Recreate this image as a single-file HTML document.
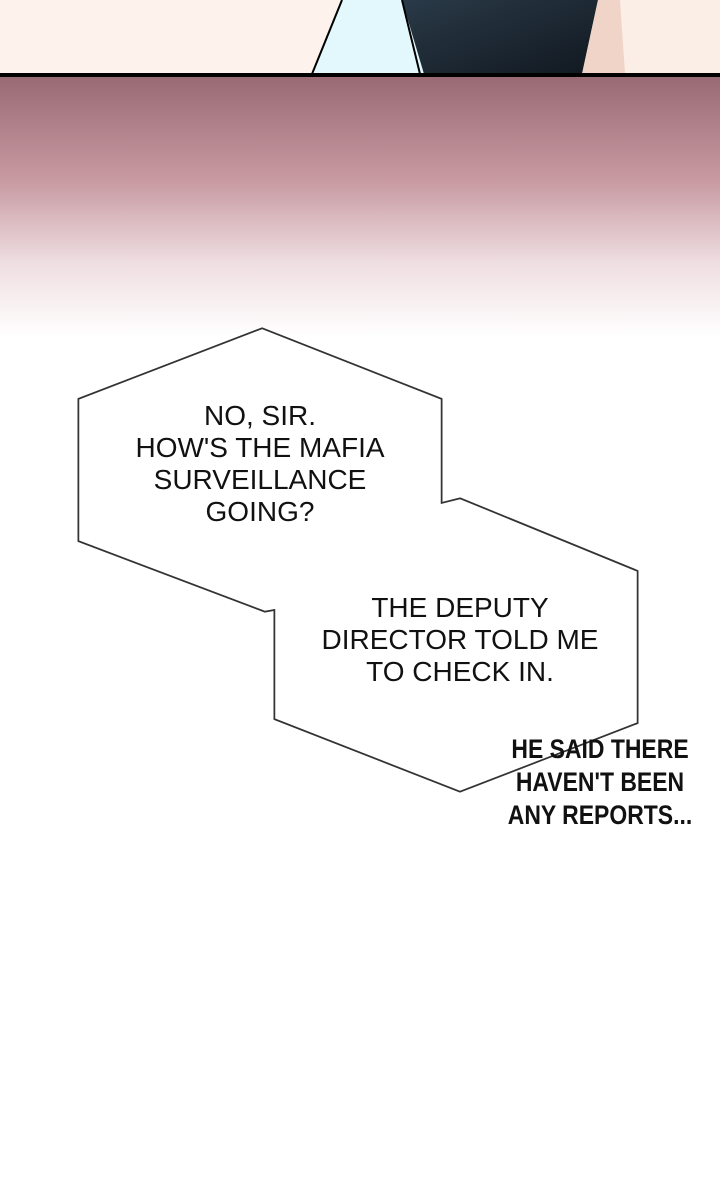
<!DOCTYPE html>
<html><head><style>
body{margin:0;width:720px;height:1195px;overflow:hidden;background:#fff;position:relative;font-family:"Liberation Sans",sans-serif}
.t{position:absolute;text-align:center;font-size:28px;color:#111;line-height:32px;}
</style></head><body>
<svg width="720" height="1195" style="position:absolute;left:0;top:0">
<defs>
<linearGradient id="g" x1="0" y1="0" x2="0" y2="1">
<stop offset="0" stop-color="#9a6a74"/>
<stop offset="0.4" stop-color="#c89aa2"/>
<stop offset="0.72" stop-color="#efdfe2"/>
<stop offset="1" stop-color="#fff"/>
</linearGradient>
<linearGradient id="n" x1="0" y1="0" x2="1" y2="1">
<stop offset="0" stop-color="#2a3a48"/><stop offset="1" stop-color="#111820"/>
</linearGradient>
</defs>
<rect x="0" y="0" width="720" height="74" fill="#fdf2ec"/>
<polygon points="342,0 420,0 424,74 312,74" fill="#e2f8fc"/>
<polygon points="402,0 598,0 582,74 424,74" fill="url(#n)"/>
<polygon points="598,0 720,0 720,74 582,74" fill="#f0d4c8"/>
<polygon points="620,0 720,0 720,74 625,74" fill="#fbeee6"/>
<line x1="342" y1="0" x2="312" y2="74" stroke="#000" stroke-width="2"/>
<line x1="402" y1="0" x2="420" y2="74" stroke="#000" stroke-width="2"/>
<rect x="0" y="73" width="720" height="4" fill="#000"/>
<rect x="0" y="77" width="720" height="260" fill="url(#g)"/>
<path d="M262,330 L440,400 L440,505 L460,500 L636,572 L636,722 L460,790 L276,718 L276,608 L265,610 L80,540 L80,400 Z" fill="#fff" stroke="#333" stroke-width="5"/>
<path d="M262,330 L440,400 L440,505 L460,500 L636,572 L636,722 L460,790 L276,718 L276,608 L265,610 L80,540 L80,400 Z" fill="#fff" stroke="#fff" stroke-width="1.5"/>
</svg>
<div class="t" style="left:100px;top:400px;width:320px">NO, SIR.<br>HOW'S THE MAFIA<br>SURVEILLANCE<br>GOING?</div>
<div class="t" style="left:300px;top:592px;width:320px">THE DEPUTY<br>DIRECTOR TOLD ME<br>TO CHECK IN.</div>
<div class="t" style="left:470px;top:733px;width:260px;font-weight:bold;font-size:27px;line-height:33px;transform:scaleX(0.85)">HE SAID THERE<br>HAVEN'T BEEN<br>ANY REPORTS...</div>
</body></html>
